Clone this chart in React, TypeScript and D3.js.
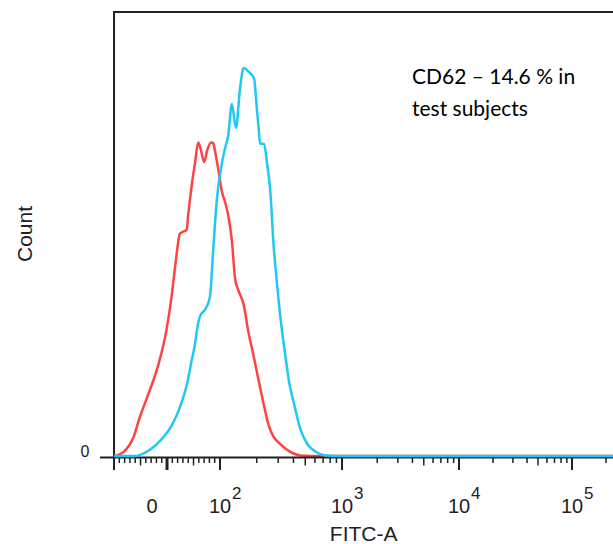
import React from "react";
import * as d3 from "d3";

// ---- data ----
const redX = [-100, -93, -80, -64, -52, -36, -16, -1, 8.5, 18, 24, 30, 37, 40, 46, 53, 59, 64, 70, 76, 83, 87, 90.5, 97, 103, 110, 117, 125, 133, 141, 156, 171, 188, 207, 227, 250, 275, 306, 343, 401, 455, 568, 262144];
const redY = [0, 0.2, 1.1, 4.0, 8.5, 13.7, 20.7, 28.4, 35.8, 45.3, 50, 50.5, 50.9, 54.3, 60.4, 66.2, 70.6, 68.9, 66.2, 68.9, 70.6, 70.5, 68.7, 64.4, 59.9, 57.2, 54.1, 48.6, 39.9, 37.4, 34.2, 27.9, 22.7, 17.1, 11.9, 7.0, 4.3, 2.9, 1.7, 0.56, 0.1, 0, 0];

const blueX = [-100, -61, -52, -33, -10, 9, 26, 38, 46, 53, 56, 62, 73.5, 81, 87, 94, 103, 110, 117, 125, 135, 146, 156, 171, 190, 200, 207, 213, 230, 242, 258, 275, 294, 318, 343, 370, 401, 455, 520, 605, 731, 884, 262144];
const blueY = [0, 0, 0.2, 1.35, 3.8, 6.9, 11.5, 16.4, 21.2, 25.4, 28, 31.4, 33.3, 35.8, 46, 57.7, 65.5, 69.3, 72.3, 79.3, 73.9, 82.8, 87.4, 86.6, 85.1, 78.6, 74.1, 70.4, 70.3, 66.3, 59.9, 47.5, 38.5, 29.5, 22.7, 16.4, 12.2, 6.1, 2.7, 1.0, 0.1, 0, 0];

const labelValues = [0, 100, 1000, 10000, 100000];
const labelBases = ["0", "10", "10", "10", "10"];
const labelExps = ["", "2", "3", "4", "5"];
const majorTickValues = [0, 100, 1000, 10000, 100000];

const xTitle = "FITC-A";
const yTitle = "Count";
const yTickLabel = "0";
const annotation = ["CD62 \u2013 14.6 % in", "test subjects"];

const X_MIN = -100;
const X_MAX = 262144;
const Y_MAX = 100;

// ---- scales ----
const toDecades = (v: number) =>
  v >= 100 ? Math.log10(v) : 2 + (v - 100) / (100 * Math.LN10);
const decadeScale = d3.scaleLinear().domain([2, 3, 4, 5]).range([220, 342, 459, 572]);
const x = (v: number) => decadeScale(toDecades(v));
const y = d3.scaleLinear().domain([0, Y_MAX]).range([456, 12]);

const FONT = "'Liberation Sans', Arial, sans-serif";

export default function App() {
  const redPts = redX.map((v, i) => [v, redY[i]] as [number, number]);
  const bluePts = blueX.map((v, i) => [v, blueY[i]] as [number, number]);
  const line = d3
    .line<[number, number]>()
    .x((d) => x(d[0]))
    .y((d) => y(d[1]))
    .curve(d3.curveMonotoneX);

  // minor ticks
  const linMinor: number[] = [];
  for (let v = -90; v <= 90; v += 10) if (v !== 0) linMinor.push(v);
  const logMinor: number[] = [];
  for (let e = 2; e <= 5; e++) for (let k = 2; k <= 9; k++) logMinor.push(k * Math.pow(10, e));
  const minor = [...linMinor, ...logMinor].filter((v) => v <= X_MAX);

  const left = x(X_MIN);
  const right = x(X_MAX);
  const axisY = 457.5;

  return (
    <div style={{ position: "absolute", left: 0, top: 0 }}>
      <svg width={613} height={544} style={{ display: "block", background: "#fff" }}>
        {/* curves */}
        <path d={line(redPts) || ""} fill="none" stroke="#ff4343" strokeWidth={2.5} strokeLinejoin="round" />
        {/* frame */}
        <line x1={left} x2={right} y1={y(Y_MAX)} y2={y(Y_MAX)} stroke="#222" strokeWidth={2} />
        <line x1={left} x2={left} y1={y(Y_MAX) - 1} y2={470} stroke="#222" strokeWidth={2} />
        <line x1={100} x2={right} y1={axisY} y2={axisY} stroke="#222" strokeWidth={2} />
        {/* ticks */}
        {minor.map((v) => {
          const medium = Math.abs(v) === 50 || [500, 5000, 50000].includes(v);
          return (
            <line key={"m" + v} x1={x(v)} x2={x(v)} y1={axisY} y2={axisY + (medium ? 8 : 5.5)} stroke="#222" strokeWidth={1.5} />
          );
        })}
        {majorTickValues.map((v) => (
          <line key={"M" + v} x1={x(v)} x2={x(v)} y1={axisY} y2={470} stroke="#222" strokeWidth={v === 0 ? 3 : 2} />
        ))}
        <path d={line(bluePts) || ""} fill="none" stroke="#20c8f4" strokeWidth={2.5} strokeLinejoin="round" />
        {/* tick labels */}
        {labelValues.map((v, i) =>
          labelExps[i] === "" ? (
            <text key={"l" + v} x={x(v) - 15} y={513} textAnchor="middle" fontFamily={FONT} fontSize={20} fill="#222">
              {labelBases[i]}
            </text>
          ) : (
            <g key={"l" + v}>
              <text x={x(v)} y={513} textAnchor="middle" fontFamily={FONT} fontSize={20} fill="#222">
                {labelBases[i]}
              </text>
              <text x={x(v) + 12} y={499} textAnchor="start" fontFamily={FONT} fontSize={17} fill="#222">
                {labelExps[i]}
              </text>
            </g>
          )
        )}
        <text x={85} y={457} textAnchor="middle" fontFamily={FONT} fontSize={16} fill="#222">
          {yTickLabel}
        </text>
        {/* axis titles */}
        <text x={(left + right) / 2 - 3} y={541} textAnchor="middle" fontFamily={FONT} fontSize={21} fill="#222">
          {xTitle}
        </text>
        <text transform={`translate(32,234) rotate(-90)`} textAnchor="middle" fontFamily={FONT} fontSize={21} fill="#222">
          {yTitle}
        </text>
        {/* annotation */}
        <text x={412} y={84} fontFamily="Lato, 'Open Sans', sans-serif" fontSize={21} fill="#000">
          {annotation[0]}
        </text>
        <text x={412} y={116} fontFamily="Lato, 'Open Sans', sans-serif" fontSize={21} fill="#000">
          {annotation[1]}
        </text>
      </svg>
    </div>
  );
}
